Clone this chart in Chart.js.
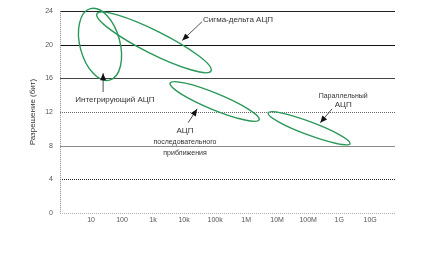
<!DOCTYPE html>
<html lang="ru">
<head>
<meta charset="UTF-8">
<title>Разрешение и частота выборки АЦП</title>
<script src="https://cdn.jsdelivr.net/npm/chart.js"></script>
<style>
  html, body { margin: 0; padding: 0; background: #fff; }
</style>
</head>
<body>
<canvas id="adcChart" width="426" height="255"></canvas>
<script>
// sample rate axis, one position per decade (10 .. 10G)
const rateLabels = ['10', '100', '1k', '10k', '100k', '1M', '10M', '100M', '1G', '10G'];
const bitTicks = [0, 4, 8, 12, 16, 20, 24];

// ADC families: ends of the long axis of each area (decade, bits) + relative thickness
const adcNames = ['Интегрирующий АЦП', 'Сигма-дельта АЦП', 'АЦП последовательного приближения', 'Параллельный АЦП'];
const rangeStart = [[0.98, 24.3], [1.19, 23.7], [3.55, 15.45], [6.71, 11.9]];
const rangeEnd = [[1.60, 15.8], [4.87, 16.9], [6.42, 11.08], [9.35, 8.25]];
const spread = [0.54, 0.18, 0.17, 0.15];

// callouts: arrow tip, arrow tail, label anchor (decade, bits) and label lines
const calloutTip = [[1.39, 16.63], [3.94, 20.52], [4.42, 12.38], [8.39, 10.73]];
const calloutTail = [[1.39, 14.39], [4.58, 22.76], [4.13, 10.73], [8.77, 12.38]];
const calloutAt = [[1.77, 13.44], [4.61, 23.0], [4.03, 9.79], [9.13, 13.92]];
const calloutText = [
    ['Интегрирующий АЦП'],
    ['Сигма-дельта АЦП'],
    ['АЦП', 'последовательного', 'приближения'],
    ['Параллельный', 'АЦП']
];

const FONT = '"Liberation Sans", Arial, sans-serif';

// grid line look per tick value
const gridLook = {
    0: ['#b0b0b0', [1, 1]],
    4: ['#222', [1, 1]],
    8: ['#8a8a8a', []],
    12: ['#666', [1, 1]],
    16: ['#444', []],
    20: ['#111', []],
    24: ['#222', []]
};

const gridPlugin = {
    id: 'grid',
    beforeDatasetsDraw(chart) {
        const { ctx, chartArea, scales } = chart;
        ctx.save();
        ctx.lineWidth = 1;
        bitTicks.forEach(v => {
            const y = Math.round(scales.y.getPixelForValue(v)) + 0.5;
            const look = gridLook[v];
            ctx.strokeStyle = look[0];
            ctx.setLineDash(look[1]);
            ctx.beginPath();
            ctx.moveTo(chartArea.left, y);
            ctx.lineTo(chartArea.right, y);
            ctx.stroke();
        });
        // left axis
        ctx.strokeStyle = '#888';
        ctx.setLineDash([1, 1]);
        ctx.beginPath();
        ctx.moveTo(chartArea.left + 0.5, chartArea.top);
        ctx.lineTo(chartArea.left + 0.5, chartArea.bottom);
        ctx.stroke();
        ctx.restore();
    }
};

const ellipsePlugin = {
    id: 'ellipses',
    afterDatasetsDraw(chart) {
        const ctx = chart.ctx;
        ctx.save();
        ctx.strokeStyle = '#2a9858';
        ctx.lineWidth = 1.4;
        chart.data.datasets.forEach((ds, i) => {
            const pts = chart.getDatasetMeta(i).data;
            const p0 = pts[0], p1 = pts[1];
            const cx = (p0.x + p1.x) / 2, cy = (p0.y + p1.y) / 2;
            const a = Math.hypot(p1.x - p0.x, p1.y - p0.y) / 2;
            const ang = Math.atan2(p1.y - p0.y, p1.x - p0.x);
            ctx.beginPath();
            ctx.ellipse(cx, cy, a, a * spread[i], ang, 0, Math.PI * 2);
            ctx.stroke();
        });

        // callout arrows and labels
        const sx = chart.scales.x, sy = chart.scales.y;
        const px = p => [sx.getPixelForValue(p[0]), sy.getPixelForValue(p[1])];
        ctx.strokeStyle = '#222';
        ctx.fillStyle = '#111';
        ctx.lineWidth = 0.8;
        calloutTip.forEach((tip, i) => {
            const [tx, ty] = px(tip);
            const [bx, by] = px(calloutTail[i]);
            const ang = Math.atan2(ty - by, tx - bx);
            ctx.beginPath();
            ctx.moveTo(bx, by);
            ctx.lineTo(tx, ty);
            ctx.stroke();
            const len = 7, half = 3;
            ctx.beginPath();
            ctx.moveTo(tx, ty);
            ctx.lineTo(tx - len * Math.cos(ang) + half * Math.sin(ang), ty - len * Math.sin(ang) - half * Math.cos(ang));
            ctx.lineTo(tx - len * Math.cos(ang) - half * Math.sin(ang), ty - len * Math.sin(ang) + half * Math.cos(ang));
            ctx.closePath();
            ctx.fill();
        });

        ctx.fillStyle = '#333';
        ctx.textBaseline = 'middle';
        calloutText.forEach((lines, i) => {
            const [lx, ly] = px(calloutAt[i]);
            ctx.textAlign = i === 1 ? 'left' : 'center';
            lines.forEach((t, k) => {
                const small = (i === 2 && k > 0) || (i === 3 && k === 0);
                ctx.font = (small ? '7px ' : '8px ') + FONT;
                ctx.fillText(t, lx, ly + k * (i === 3 ? 9 : 11));
            });
        });
        ctx.restore();
    }
};

new Chart(document.getElementById('adcChart'), {
    type: 'scatter',
    data: {
        datasets: adcNames.map((name, i) => ({
            label: name,
            data: [
                { x: rangeStart[i][0], y: rangeStart[i][1] },
                { x: rangeEnd[i][0], y: rangeEnd[i][1] }
            ],
            pointRadius: 0,
            showLine: false
        }))
    },
    options: {
        responsive: false,
        animation: false,
        devicePixelRatio: 1,
        layout: { padding: { top: 9, right: 31, left: 0, bottom: 0 } },
        plugins: {
            legend: { display: false },
            tooltip: { enabled: false }
        },
        scales: {
            x: {
                type: 'linear',
                min: 0,
                max: 10.8,
                afterBuildTicks: s => { s.ticks = rateLabels.map((_, i) => ({ value: i + 1 })); },
                afterFit: s => { s.height = 42; },
                ticks: {
                    callback: (v, i) => rateLabels[i],
                    autoSkip: false,
                    maxRotation: 0,
                    padding: 3,
                    color: '#555',
                    font: { family: FONT, size: 7 }
                },
                grid: { display: false, drawTicks: false },
                border: { display: false }
            },
            y: {
                min: 0,
                max: 24,
                afterBuildTicks: s => { s.ticks = bitTicks.map(v => ({ value: v })); },
                afterFit: s => { s.width = 60; },
                ticks: {
                    padding: 7,
                    color: '#555',
                    font: { family: FONT, size: 7 }
                },
                grid: { display: false, drawTicks: false },
                border: { display: false },
                title: {
                    display: true,
                    text: 'Разрешение (бит)',
                    color: '#333',
                    font: { family: FONT, size: 8 },
                    padding: { top: 28, bottom: 0 }
                }
            }
        }
    },
    plugins: [gridPlugin, ellipsePlugin]
});
</script>
</body>
</html>
